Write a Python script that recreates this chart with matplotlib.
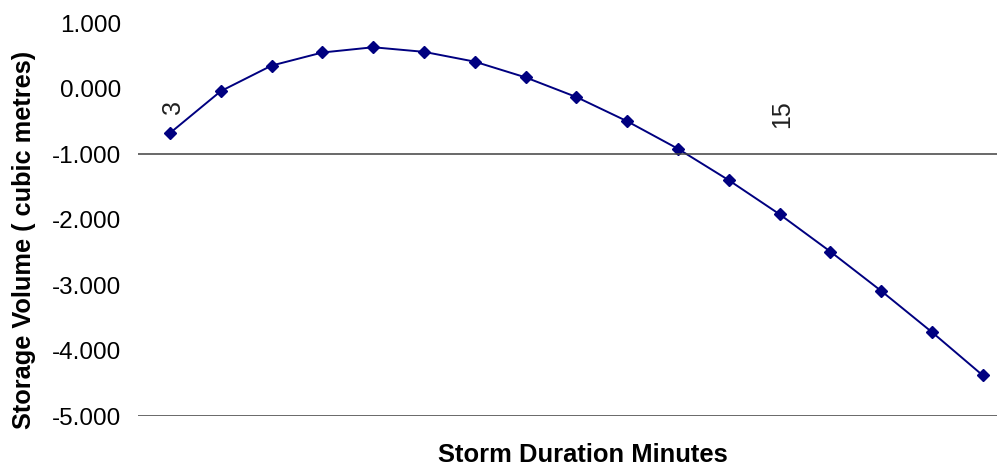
import matplotlib
matplotlib.use("Agg")
import matplotlib.pyplot as plt

plt.rcParams['font.family'] = ['Liberation Sans', 'DejaVu Sans']

durations = list(range(3, 20))
storage = [-0.68, -0.04, 0.35, 0.55, 0.63, 0.56, 0.41, 0.17, -0.13, -0.50,
           -0.92, -1.40, -1.92, -2.49, -3.09, -3.72, -4.38]
shown_labels = {3: "3", 15: "15"}
yticks = [1, 0, -1, -2, -3, -4, -5]
ytick_labels = ["1.000", "0.000", "-1.000", "-2.000", "-3.000", "-4.000", "-5.000"]

fig = plt.figure(figsize=(9.97, 4.67), dpi=100)
ax = fig.add_axes([0.1384, 0.1092, 0.8616, 0.8415])

xs = list(range(len(durations)))
ax.plot(xs, storage, color="#000080", lw=1.4, marker="D", markersize=6.5,
        markerfacecolor="#000080", markeredgecolor="#000080")

ax.set_xlim(-0.63, 16.28)
ax.set_ylim(-5, 1)
for s in ax.spines.values():
    s.set_visible(False)
ax.axhline(-1, color="#404040", lw=1.1)
ax.axhline(-5, color="#404040", lw=1.1)

ax.set_xticks([])
ax.set_yticks(yticks)
ax.set_yticklabels(ytick_labels, fontsize=17.5)
ax.tick_params(axis="y", length=0, pad=12)

for i, d in enumerate(durations):
    if d in shown_labels:
        ax.text(i + 0.05, -0.18, shown_labels[d], rotation=90, ha="center", va="top",
                fontsize=18, color="#202020")

ax.set_ylabel("Storage Volume ( cubic metres)", fontsize=18.3, fontweight="bold")
ax.yaxis.set_label_coords(-0.133, 0.448)
ax.yaxis.label.set_va("center")
ax.set_xlabel("Storm Duration Minutes", fontsize=18.4, fontweight="bold")
ax.xaxis.set_label_coords(0.518, -0.099)
ax.xaxis.label.set_va("center")

fig.savefig("out.png", dpi=100)
